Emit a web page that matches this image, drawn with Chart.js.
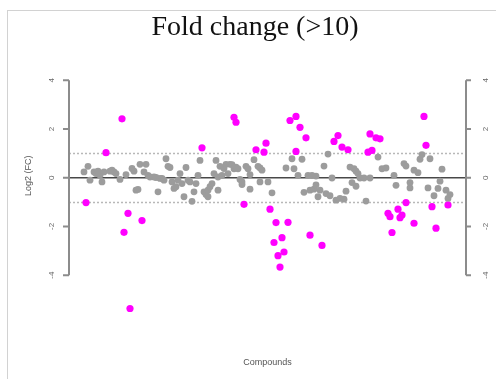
<!DOCTYPE html>
<html>
<head>
<meta charset="utf-8">
<script src="https://cdn.jsdelivr.net/npm/chart.js@4.4.1/dist/chart.umd.min.js"></script>
<style>
  html, body { margin: 0; padding: 0; background: #fff; }
  #wrap { position: relative; width: 496px; height: 379px; overflow: hidden; }
  #frame { position: absolute; left: 7px; top: 10px; right: -10px; bottom: -10px;
           border-top: 1px solid #d2d2d2; border-left: 1px solid #d2d2d2; }
  canvas { position: absolute; left: 0; top: 0; }
</style>
</head>
<body>
<div id="wrap">
  <div id="frame"></div>
  <canvas id="fcChart" width="496" height="379"></canvas>
</div>
<script>
// compound number / log2 fold change, in plotting order
const compoundNo = [
  2, 3, 4, 5, 7, 8, 9, 10, 11, 12, 13, 15, 16, 17, 18, 20, 21, 22, 23, 24,
  25, 26, 27, 28, 29, 30, 31, 32, 33, 34, 35, 37, 38, 39, 40, 41, 42, 43, 44, 45,
  46, 47, 48, 49, 50, 51, 52, 53, 54, 55, 56, 57, 58, 59, 60, 61, 62, 63, 64, 64,
  65, 66, 67, 68, 69, 69, 70, 71, 72, 73, 75, 74, 76, 77, 77, 78, 78, 79, 80, 81,
  81, 82, 83, 84, 85, 85, 87, 88, 89, 90, 90, 91, 92, 93, 94, 95, 96, 97, 98, 99,
  100, 101, 102, 103, 104, 105, 106, 107, 108, 108, 109, 110, 111, 112, 113, 114, 115, 115, 116, 117,
  118, 118, 119, 120, 121, 122, 123, 124, 125, 126, 127, 128, 129, 130, 131, 132, 133, 134, 135, 136,
  137, 138, 138, 139, 140, 142, 143, 144, 145, 145, 146, 148, 149, 150, 151, 153, 154, 155, 156, 157,
  158, 159, 160, 161, 162, 163, 163, 165, 165, 167, 167, 169, 170, 171, 172, 173, 174, 175, 176, 177,
  178, 179, 180, 181, 183, 184, 184, 185
];
const log2FC = [
  0.24, -1.02, 0.47, -0.10, 0.24, 0.17, 0.27, 0.10, -0.17, 0.24, 1.03, 0.27, 0.31, 0.24, 0.17, -0.07, 2.42, -2.24, 0.13, -1.46,
  -5.37, 0.38, 0.27, -0.51, -0.48, 0.55, -1.76, 0.24, 0.55, 0.10, 0.03, 0.03, 0.01, -0.58, -0.03, -0.03, -0.10, 0.78, 0.47, 0.42,
  -0.17, -0.44, -0.37, -0.10, 0.17, -0.24, -0.78, 0.42, -0.10, -0.17, -0.97, -0.58, -0.24, 0.10, 0.71, 1.23, -0.58, -0.69, -0.78, -0.51,
  -0.37, -0.24, 0.17, 0.71, 0.03, -0.51, 0.47, 0.10, 0.38, 0.55, 0.55, 0.17, 0.54, 0.37, 2.48, 0.44, 2.28, 0.37, -0.07, -0.17,
  -0.28, -1.09, 0.47, 0.37, -0.47, 0.13, 0.74, 1.15, 0.47, -0.17, 0.40, 0.31, 1.05, 1.42, -0.17, -1.29, -0.62, -2.66, -1.84, -3.20,
  -3.67, -2.46, -3.05, 0.40, -1.83, 2.35, 0.78, 0.37, 2.52, 1.08, 0.10, 2.07, 0.76, -0.60, 1.64, 0.10, -2.36, -0.51, 0.10, -0.47,
  0.07, -0.29, -0.78, -0.51, -2.78, 0.48, -0.65, 0.97, -0.74, -0.01, 1.49, -0.92, 1.73, -0.85, 1.26, -0.88, -0.55, 1.15, 0.44, -0.20,
  0.37, 0.27, -0.35, 0.17, -0.01, -0.01, -0.96, 1.05, -0.01, 1.80, 1.12, 1.64, 0.85, 1.60, 0.37, 0.40, -1.46, -1.60, -2.25, 0.10,
  -0.31, -1.29, -1.64, -1.53, 0.58, 0.48, -1.02, -0.42, -0.20, -1.87, 0.31, 0.21, 0.76, 0.95, 2.52, 1.33, -0.42, 0.78, -1.19, -0.74,
  -2.07, -0.44, -0.14, 0.35, -0.51, -1.12, -0.85, -0.69
];

const fcCutoff = 1;          // |log2 FC| above this is highlighted
const yTicks = [-4, -2, 0, 2, 4];
const guideLines = [-1, 1];

const points = compoundNo.map((c, i) => ({ x: c, y: log2FC[i] }));
const hits = points.filter(p => Math.abs(p.y) > fcCutoff);
const rest = points.filter(p => Math.abs(p.y) <= fcCutoff);

// R-style frame: reference lines, detached y axes on both sides, rotated tick labels
const rFrame = {
  id: 'rFrame',
  beforeDatasetsDraw(chart) {
    const { ctx, chartArea: a, scales: { y } } = chart;
    ctx.save();
    ctx.strokeStyle = '#b8b8b8';
    ctx.lineWidth = 1.5;
    ctx.setLineDash([2, 2]);
    guideLines.forEach(v => {
      const py = Math.round(y.getPixelForValue(v)) + 0.5;
      ctx.beginPath();
      ctx.moveTo(a.left, py);
      ctx.lineTo(a.right, py);
      ctx.stroke();
    });
    ctx.setLineDash([]);
    ctx.strokeStyle = '#484848';
    ctx.lineWidth = 1.7;
    const py0 = y.getPixelForValue(0);
    ctx.beginPath();
    ctx.moveTo(a.left, py0);
    ctx.lineTo(a.right, py0);
    ctx.stroke();
    ctx.restore();
  },
  afterDraw(chart) {
    const { ctx, chartArea: a, scales: { y } } = chart;
    const top = y.getPixelForValue(yTicks[yTicks.length - 1]);
    const bottom = y.getPixelForValue(yTicks[0]);
    ctx.save();
    ctx.strokeStyle = '#8c8c8c';
    ctx.lineWidth = 2;
    [[a.left, -6], [a.right, 5]].forEach(([x0, len]) => {
      ctx.beginPath();
      ctx.moveTo(x0, top);
      ctx.lineTo(x0, bottom);
      yTicks.forEach(t => {
        const py = y.getPixelForValue(t);
        ctx.moveTo(x0, py);
        ctx.lineTo(x0 + len, py);
      });
      ctx.stroke();
    });

    ctx.fillStyle = '#666';
    ctx.font = '8px "Liberation Sans", Arial, sans-serif';
    ctx.textAlign = 'center';
    ctx.textBaseline = 'middle';
    [a.left - 17, a.right + 20].forEach(lx => {
      yTicks.forEach(t => {
        ctx.save();
        ctx.translate(lx, y.getPixelForValue(t));
        ctx.rotate(-Math.PI / 2);
        ctx.fillText(String(t), 0, 0);
        ctx.restore();
      });
    });

    ctx.fillStyle = '#555';
    ctx.font = '9px "Liberation Sans", Arial, sans-serif';
    ctx.save();
    ctx.translate(29, y.getPixelForValue(0) - 2);
    ctx.rotate(-Math.PI / 2);
    ctx.fillText('Log2 (FC)', 0, 0);
    ctx.restore();
    ctx.fillText('Compounds', (a.left + a.right) / 2, 363);

    ctx.fillStyle = '#111';
    ctx.font = '28px "Liberation Serif", "Times New Roman", serif';
    ctx.fillText('Fold change (>10)', 255, 28);
    ctx.restore();
  }
};

new Chart(document.getElementById('fcChart'), {
  type: 'scatter',
  data: {
    datasets: [
      {
        label: '|log2 FC| > 1',
        data: hits,
        backgroundColor: '#ff00ff',
        borderWidth: 0,
        pointRadius: 3.6
      },
      {
        label: 'other',
        data: rest,
        backgroundColor: '#9c9c9c',
        borderWidth: 0,
        pointRadius: 3.4
      }
    ]
  },
  options: {
    responsive: false,
    animation: false,
    devicePixelRatio: 1,
    layout: { padding: { left: 69, right: 30, top: 56, bottom: 43 } },
    plugins: {
      legend: { display: false },
      tooltip: { enabled: false },
      title: { display: false }
    },
    scales: {
      x: { type: 'linear', min: -5.5, max: 193, display: false },
      y: { type: 'linear', min: -6.5, max: 5, display: false }
    }
  },
  plugins: [rFrame]
});
</script>
</body>
</html>
